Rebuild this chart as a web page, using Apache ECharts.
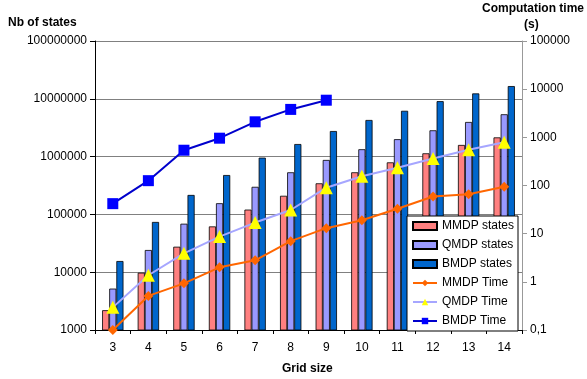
<!DOCTYPE html>
<html><head><meta charset="utf-8">
<script src="https://cdn.jsdelivr.net/npm/echarts@6/dist/echarts.min.js"></script>
<style>html,body{margin:0;padding:0;background:#fff}#c{width:587px;height:379px}</style>
</head><body><div id="c"></div>
<script>
const categories = ['3','4','5','6','7','8','9','10','11','12','13','14'];
const mmdpStates = [2200, 9800, 27600, 62000, 121000, 210000, 345000, 535000, 795000, 1140000, 1590000, 2150000];
const qmdpStates = [5200, 24200, 69000, 156000, 300000, 535000, 875000, 1340000, 2000000, 2850000, 3970000, 5400000];
const bmdpStates = [15600, 74000, 217000, 480000, 960000, 1650000, 2770000, 4300000, 6200000, 9100000, 12400000, 16600000];
const mmdpTime = [0.1, 0.51, 0.93, 2.0, 2.8, 7.0, 13, 19, 33, 59, 66, 94];
const qmdpTime = [0.295, 1.37, 3.9, 8.7, 17, 31, 90, 156, 234, 363, 550, 790];
const bmdpTime = [42, 126, 540, 960, 2100, 3800, 5900, null, null, null, null, null];

const font = 'Liberation Sans, Arial, sans-serif';
const chart = echarts.init(document.getElementById('c'), null, {renderer: 'canvas'});
const barStyle = c => ({color: c, borderColor: '#000', borderWidth: 0.8});
chart.setOption({
  animation: false,
  textStyle: {fontFamily: font},
  grid: {left: 95, right: 65, top: 41, bottom: 49},
  graphic: [
    {type: 'text', left: 8, top: 17, style: {text: 'Nb of states', font: 'bold 12px ' + font, fill: '#000'}},
    {type: 'text', left: 482, top: 3, style: {text: 'Computation time', font: 'bold 12px ' + font, fill: '#000'}},
    {type: 'text', left: 524, top: 19, style: {text: '(s)', font: 'bold 12px ' + font, fill: '#000'}},
    {type: 'text', left: 282, top: 363, style: {text: 'Grid size', font: 'bold 12px ' + font, fill: '#000'}}
  ],
  legend: {
    orient: 'vertical', left: 407, top: 216, width: 112,
    backgroundColor: '#fff', borderColor: '#000', borderWidth: 1, borderRadius: 0,
    padding: [4, 4, 4, 5], itemGap: 7, itemWidth: 24, itemHeight: 8,
    textStyle: {fontSize: 12, color: '#000', fontFamily: font},
    data: [
      {name: 'MMDP states', icon: 'rect'},
      {name: 'QMDP states', icon: 'rect'},
      {name: 'BMDP states', icon: 'rect'},
      'MMDP Time', 'QMDP Time', 'BMDP Time'
    ]
  },
  xAxis: {
    type: 'category', data: categories, boundaryGap: true,
    axisLine: {lineStyle: {color: '#000'}},
    axisTick: {show: true, alignWithLabel: false, lineStyle: {color: '#000'}, length: 4},
    axisLabel: {color: '#000', fontSize: 12, margin: 12, interval: 0}
  },
  yAxis: [
    {
      type: 'log', logBase: 10, min: 1000, max: 100000000,
      axisLine: {show: true, lineStyle: {color: '#000'}},
      axisTick: {show: true, lineStyle: {color: '#000'}, length: 5},
      axisLabel: {color: '#000', fontSize: 12, margin: 8, formatter: v => String(Math.round(v))},
      splitLine: {show: true, lineStyle: {color: '#808080', width: 1}},
      minorTick: {show: false}
    },
    {
      type: 'log', logBase: 10, min: 0.1, max: 100000, position: 'right',
      axisLine: {show: true, lineStyle: {color: '#999'}},
      axisTick: {show: true, lineStyle: {color: '#999'}, length: 5},
      axisLabel: {color: '#000', fontSize: 12, margin: 8,
        formatter: v => (v < 1 ? String(Math.round(v * 10) / 10) : String(Math.round(v))).replace('.', ',')},
      splitLine: {show: false}
    }
  ],
  series: [
    {name: 'MMDP states', type: 'bar', yAxisIndex: 0, data: mmdpStates, barGap: '0%', barCategoryGap: '40%', itemStyle: barStyle('#FF8080')},
    {name: 'QMDP states', type: 'bar', yAxisIndex: 0, data: qmdpStates, barGap: '0%', barCategoryGap: '40%', itemStyle: barStyle('#9999FF')},
    {name: 'BMDP states', type: 'bar', yAxisIndex: 0, data: bmdpStates, barGap: '0%', barCategoryGap: '40%', itemStyle: barStyle('#0066CC')},
    {name: 'MMDP Time', type: 'line', yAxisIndex: 1, data: mmdpTime, symbol: 'diamond', symbolSize: 10,
      lineStyle: {color: '#FF6600', width: 2}, itemStyle: {color: '#FF6600'}, z: 5},
    {name: 'QMDP Time', type: 'line', yAxisIndex: 1, data: qmdpTime, symbol: 'triangle', symbolSize: 13,
      lineStyle: {color: '#A6A6FF', width: 2}, itemStyle: {color: '#FFFF00'}, z: 5},
    {name: 'BMDP Time', type: 'line', yAxisIndex: 1, data: bmdpTime, symbol: 'rect', symbolSize: 11,
      lineStyle: {color: '#0000CC', width: 2}, itemStyle: {color: '#0000FF'}, z: 5}
  ]
});
</script></body></html>
